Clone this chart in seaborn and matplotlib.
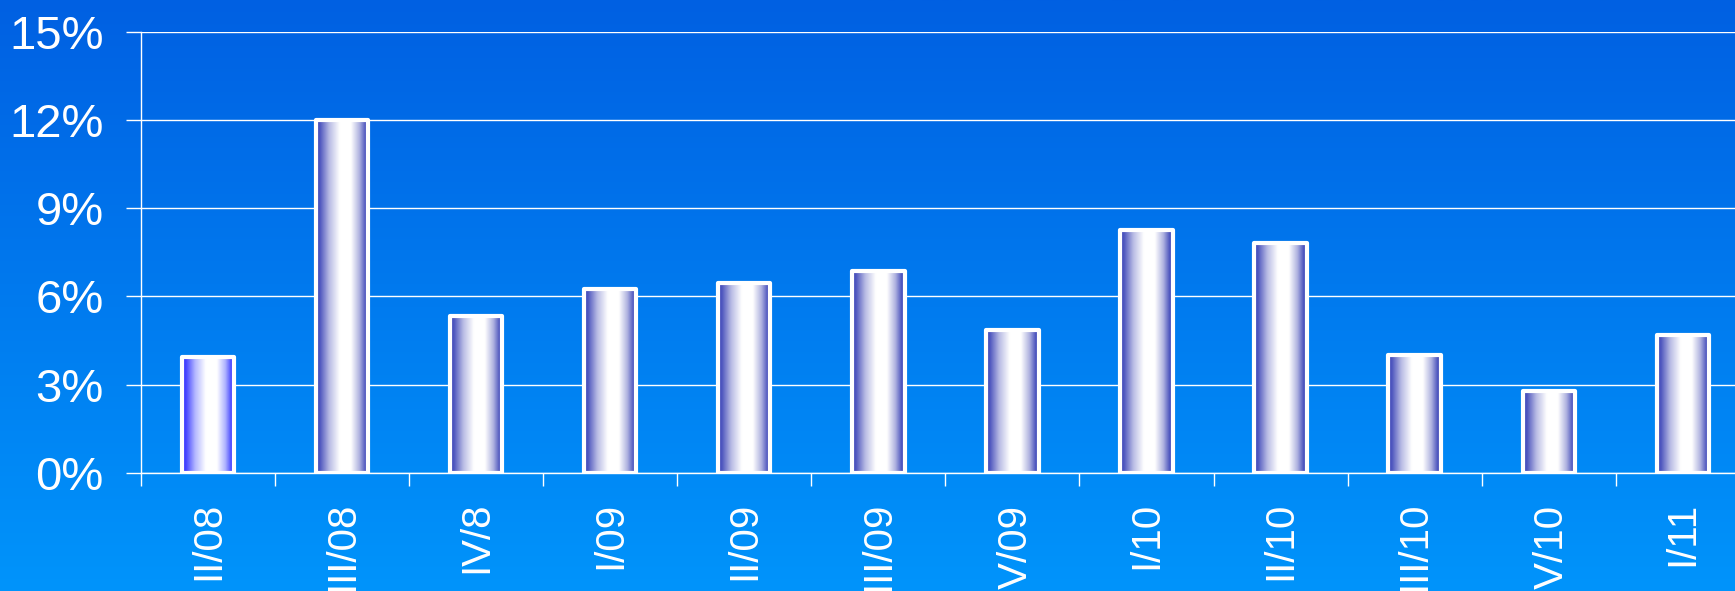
import numpy as np
import pandas as pd
import matplotlib
matplotlib.use("Agg")
import matplotlib.pyplot as plt
from matplotlib.colors import LinearSegmentedColormap
import seaborn as sns

# quarterly growth
quarters = ["II/08", "III/08", "IV/8", "I/09", "II/09", "III/09",
            "IV/09", "I/10", "II/10", "III/10", "IV/10", "I/11"]
growth = [3.94, 12.02, 5.33, 6.26, 6.45, 6.88, 4.84, 8.25, 7.82, 3.99, 2.77, 4.67]
y_ticks = [0, 3, 6, 9, 12, 15]

df = pd.DataFrame({"quarter": quarters, "growth": growth})

plt.rcParams["font.family"] = ["Liberation Sans", "DejaVu Sans"]

fig = plt.figure(figsize=(17.35, 5.91), dpi=100)

# background: vertical blue gradient over the whole figure
bg = fig.add_axes([0, 0, 1, 1], zorder=0)
bg_cmap = LinearSegmentedColormap.from_list("bg", ["#0060e2", "#0094fb"])
bg.imshow(np.linspace(0, 1, 256).reshape(-1, 1), cmap=bg_cmap, aspect="auto",
          extent=[0, 1, 0, 1], origin="upper")
bg.axis("off")

ax = fig.add_axes([0.0813, 0.2002, 0.9272, 0.7457], zorder=1)
ax.patch.set_alpha(0)

sns.barplot(data=df, x="quarter", y="growth", ax=ax, width=0.39,
            color="white", errorbar=None)

# bars: white outline, horizontal "cylinder" gradient inside
bar_cmap = LinearSegmentedColormap.from_list(
    "bar", [(0, "#4850bc"), (0.07, "#4c54be"), (0.25, "#b8bbe4"), (0.45, "#ffffff"),
            (0.66, "#ffffff"), (0.82, "#b0b3e0"), (0.94, "#4c54be"), (1, "#4850bc")])
first_cmap = LinearSegmentedColormap.from_list(
    "bar0", [(0, "#3c3cff"), (0.07, "#4242ff"), (0.25, "#b4b8ff"), (0.45, "#ffffff"),
             (0.66, "#ffffff"), (0.82, "#aeb2ff"), (0.94, "#4242ff"), (1, "#3c3cff")])
grad = np.linspace(0, 1, 256).reshape(1, -1)
for i, p in enumerate(ax.patches):
    p.set_facecolor("none")
    p.set_edgecolor("white")
    p.set_linewidth(3.0)
    p.set_joinstyle("round")
    p.set_zorder(4)
    x0, y0, w, h = p.get_x(), p.get_y(), p.get_width(), p.get_height()
    ax.imshow(grad, cmap=first_cmap if i == 0 else bar_cmap, aspect="auto",
              extent=[x0, x0 + w, y0, y0 + h], zorder=3, interpolation="bilinear")

ax.set_xlim(-0.5, len(quarters) - 0.5)
ax.set_ylim(0, 15)

# y axis
ax.set_yticks(y_ticks)
ax.set_yticklabels([f"{v}%" for v in y_ticks])
ax.tick_params(axis="y", colors="white", labelsize=34, length=11, width=1.0, pad=16)
ax.yaxis.grid(True, color="white", linewidth=1.0)
ax.set_axisbelow(True)

# x axis: labels at centers, ticks between categories
ax.set_xticks(range(len(quarters)))
ax.set_xticks(np.arange(-0.5, len(quarters), 1), minor=True)
ax.tick_params(axis="x", which="major", length=0, labelsize=29,
               labelcolor="white", labelrotation=90, pad=21)
ax.tick_params(axis="x", which="minor", length=9.5, width=1.0, color="white")

for side in ["top", "right"]:
    ax.spines[side].set_visible(False)
for side in ["left", "bottom"]:
    ax.spines[side].set_color("white")
    ax.spines[side].set_linewidth(1.0)

ax.set_xlabel("")
ax.set_ylabel("")

fig.savefig("out.png", dpi=100)
